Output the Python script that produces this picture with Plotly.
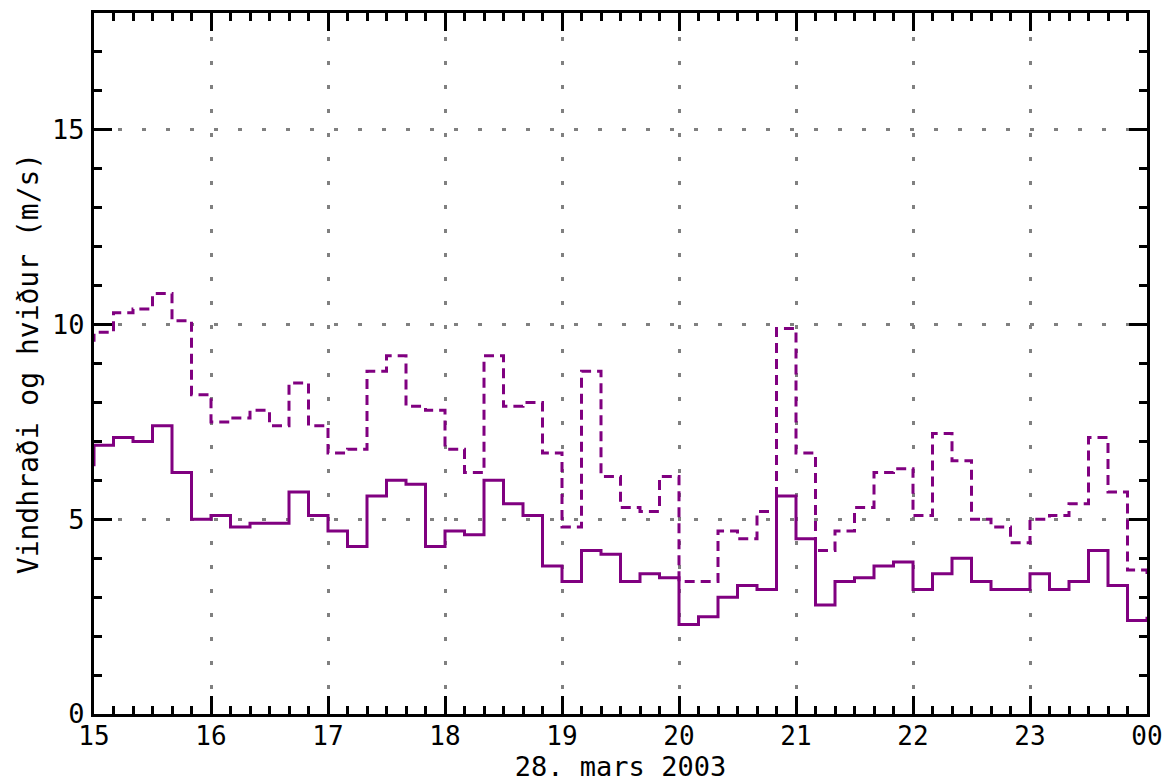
import pandas as pd
import plotly.graph_objects as go

# 10-minute values, 14:50 (just before the window) through 00:00
times = pd.date_range("2003-03-28 14:50", "2003-03-29 00:00", freq="10min")

vindhradi = [6.4,
             6.9, 7.1, 7.0, 7.4, 6.2, 5.0,
             5.1, 4.8, 4.9, 4.9, 5.7, 5.1,
             4.7, 4.3, 5.6, 6.0, 5.9, 4.3,
             4.7, 4.6, 6.0, 5.4, 5.1, 3.8,
             3.4, 4.2, 4.1, 3.4, 3.6, 3.5,
             2.3, 2.5, 3.0, 3.3, 3.2, 5.6,
             4.5, 2.8, 3.4, 3.5, 3.8, 3.9,
             3.2, 3.6, 4.0, 3.4, 3.2, 3.2,
             3.6, 3.2, 3.4, 4.2, 3.3, 2.4,
             2.5]

hvidur = [9.6,
          9.8, 10.3, 10.4, 10.8, 10.1, 8.2,
          7.5, 7.6, 7.8, 7.4, 8.5, 7.4,
          6.7, 6.8, 8.8, 9.2, 7.9, 7.8,
          6.8, 6.2, 9.2, 7.9, 8.0, 6.7,
          4.8, 8.8, 6.1, 5.3, 5.2, 6.1,
          3.4, 3.4, 4.7, 4.5, 5.2, 9.9,
          6.7, 4.2, 4.7, 5.3, 6.2, 6.3,
          5.1, 7.2, 6.5, 5.0, 4.8, 4.4,
          5.0, 5.1, 5.4, 7.1, 5.7, 3.7,
          3.5]

x_title = "28. mars 2003"
y_title = "Vindhraði og hviður (m/s)"

PURPLE = "#800080"
FONT = "DejaVu Sans Mono"

fig = go.Figure()
fig.add_trace(go.Scatter(x=times, y=hvidur, mode="lines", line_shape="hv",
                         line=dict(color=PURPLE, width=3, dash="10px,6px"),
                         name="hviður"))
fig.add_trace(go.Scatter(x=times, y=vindhradi, mode="lines", line_shape="hv",
                         line=dict(color=PURPLE, width=3),
                         name="vindhraði"))

# page body has an 8px default margin; margins compensate for it
fig.update_layout(
    width=1171, height=783,
    margin=dict(l=86, r=32, t=5, b=77, autoexpand=False),
    paper_bgcolor="white", plot_bgcolor="white",
    showlegend=False,
    font=dict(family=FONT, size=26, color="black"),
)

fig.update_xaxes(
    type="date", automargin=False,
    range=["2003-03-28 15:00", "2003-03-29 00:00"],
    dtick=3600000, tickformat="%H",
    ticks="inside", ticklen=18, tickwidth=3, tickcolor="black",
    ticklabelstandoff=-3,
    showline=True, linewidth=3, linecolor="black", mirror="allticks",
    showgrid=True, gridcolor="#808080", gridwidth=3, griddash="4px,20px",
    zeroline=False,
    tickfont=dict(family=FONT, size=26, color="black"),
    minor=dict(dtick=600000, ticks="inside", ticklen=8, tickwidth=3,
               tickcolor="black", showgrid=False),
    title=dict(text=x_title, font=dict(family=FONT, size=27, color="black"), standoff=3),
)

fig.update_yaxes(
    range=[0, 18], automargin=False,
    tick0=0, dtick=5,
    ticks="inside", ticklen=18, tickwidth=3, tickcolor="black",
    ticklabelstandoff=1,
    showline=True, linewidth=3, linecolor="black", mirror="allticks",
    showgrid=True, gridcolor="#808080", gridwidth=3, griddash="4px,20px",
    zeroline=False,
    tickfont=dict(family=FONT, size=27, color="black"),
    minor=dict(dtick=1, ticks="inside", ticklen=8, tickwidth=3,
               tickcolor="black", showgrid=False),
    title=dict(text=y_title, font=dict(family=FONT, size=28, color="black"), standoff=6),
)

fig.write_html("out.html")
